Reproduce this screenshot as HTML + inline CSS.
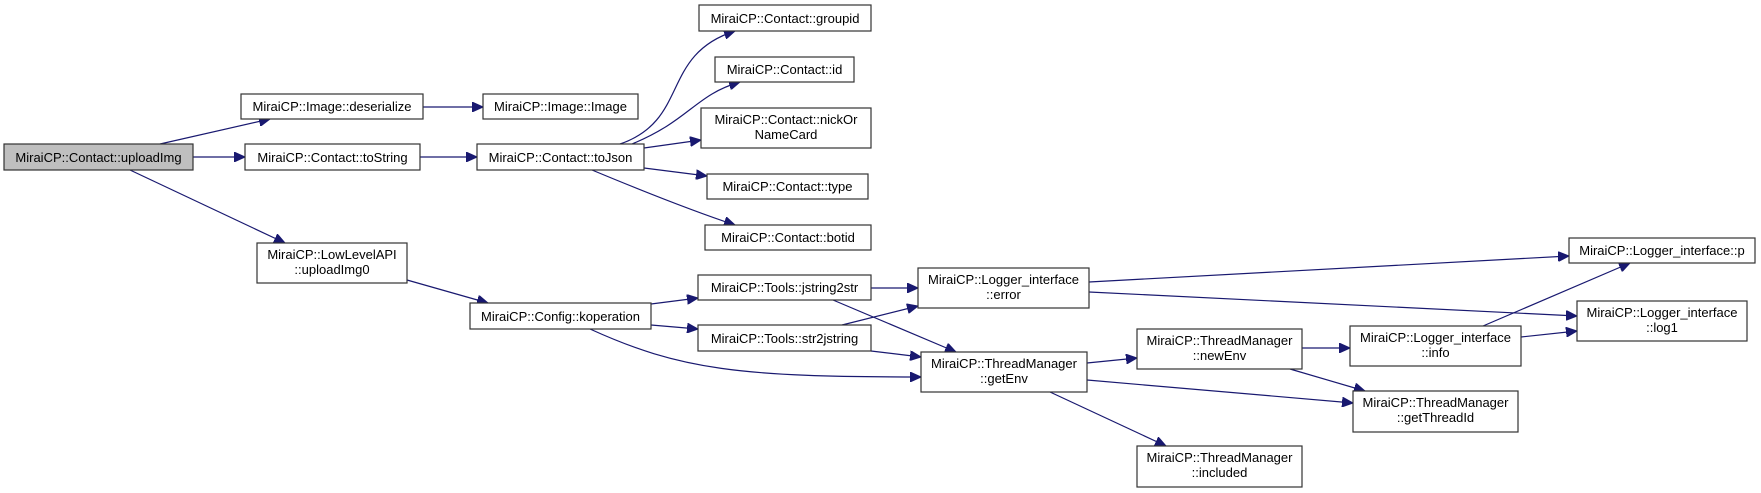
<!DOCTYPE html>
<html><head><meta charset="utf-8"><style>
html,body{margin:0;padding:0;background:#fff;}
svg{display:block;}
text{font-family:"Liberation Sans",Arial,sans-serif;font-size:13px;fill:#000;}
.b{fill:#fff;stroke:#333;stroke-width:1.2;}
.e{fill:none;stroke:#191970;stroke-width:1.2;marker-end:url(#a);}
</style></head><body>
<svg width="1761" height="493" viewBox="0 0 1761 493" xmlns="http://www.w3.org/2000/svg">
<defs><marker id="a" markerUnits="userSpaceOnUse" markerWidth="12" markerHeight="10" refX="11" refY="5" orient="auto"><path d="M0,0 L11,5 L0,10 z" fill="#191970" stroke="#191970"/></marker></defs>
<g>
<path class="e" d="M160,144 L270,119"/>
<path class="e" d="M193,157 L245,157"/>
<path class="e" d="M130,170 L285,243"/>
<path class="e" d="M423,107 L483,107"/>
<path class="e" d="M420,157 L477,157"/>
<path class="e" d="M620,144 C690,120 660,55 735,31"/>
<path class="e" d="M632,144 C690,120 695,95 740,82"/>
<path class="e" d="M644,148 L701,140"/>
<path class="e" d="M644,168 L707,176"/>
<path class="e" d="M592,170 C640,190 690,210 735,225"/>
<path class="e" d="M407,280 L488,303"/>
<path class="e" d="M651,304 L698,298"/>
<path class="e" d="M651,325 L698,329"/>
<path class="e" d="M590,329 C680,370 740,377 921,377"/>
<path class="e" d="M871,288 L918,288"/>
<path class="e" d="M833,300 L956,352"/>
<path class="e" d="M842,325 L918,306"/>
<path class="e" d="M871,351 L921,357"/>
<path class="e" d="M1089,282 L1569,256"/>
<path class="e" d="M1089,292 L1577,316"/>
<path class="e" d="M1087,363 L1137,358"/>
<path class="e" d="M1087,380 L1353,403"/>
<path class="e" d="M1050,392 L1166,446"/>
<path class="e" d="M1302,348 L1350,348"/>
<path class="e" d="M1290,369 L1365,391"/>
<path class="e" d="M1483,326 L1630,263"/>
<path class="e" d="M1521,337 L1577,331"/>
</g>
<rect x="4" y="144" width="189" height="26" fill="#bfbfbf" stroke="#333" stroke-width="1.2"/>
<text x="98.5" y="162" text-anchor="middle">MiraiCP::Contact::uploadImg</text>
<rect class="b" x="241" y="94" width="182" height="25"/><text x="332" y="111" text-anchor="middle">MiraiCP::Image::deserialize</text>
<rect class="b" x="483" y="94" width="155" height="25"/><text x="560.5" y="111" text-anchor="middle">MiraiCP::Image::Image</text>
<rect class="b" x="245" y="144" width="175" height="26"/><text x="332.5" y="162" text-anchor="middle">MiraiCP::Contact::toString</text>
<rect class="b" x="477" y="144" width="167" height="26"/><text x="560.5" y="162" text-anchor="middle">MiraiCP::Contact::toJson</text>
<rect class="b" x="257" y="243" width="150" height="40"/><text x="332" y="259" text-anchor="middle">MiraiCP::LowLevelAPI</text><text x="332" y="274" text-anchor="middle">::uploadImg0</text>
<rect class="b" x="699" y="5" width="172" height="26"/><text x="785" y="23" text-anchor="middle">MiraiCP::Contact::groupid</text>
<rect class="b" x="715" y="57" width="139" height="25"/><text x="784.5" y="74" text-anchor="middle">MiraiCP::Contact::id</text>
<rect class="b" x="701" y="108" width="170" height="40"/><text x="786" y="124" text-anchor="middle">MiraiCP::Contact::nickOr</text><text x="786" y="139" text-anchor="middle">NameCard</text>
<rect class="b" x="707" y="174" width="161" height="25"/><text x="787.5" y="191" text-anchor="middle">MiraiCP::Contact::type</text>
<rect class="b" x="705" y="225" width="166" height="25"/><text x="788" y="242" text-anchor="middle">MiraiCP::Contact::botid</text>
<rect class="b" x="470" y="303" width="181" height="26"/><text x="560.5" y="321" text-anchor="middle">MiraiCP::Config::koperation</text>
<rect class="b" x="698" y="275" width="173" height="25"/><text x="784.5" y="292" text-anchor="middle">MiraiCP::Tools::jstring2str</text>
<rect class="b" x="698" y="325" width="173" height="26"/><text x="784.5" y="343" text-anchor="middle">MiraiCP::Tools::str2jstring</text>
<rect class="b" x="918" y="268" width="171" height="40"/><text x="1003.5" y="284" text-anchor="middle">MiraiCP::Logger_interface</text><text x="1003.5" y="299" text-anchor="middle">::error</text>
<rect class="b" x="921" y="352" width="166" height="40"/><text x="1004" y="368" text-anchor="middle">MiraiCP::ThreadManager</text><text x="1004" y="383" text-anchor="middle">::getEnv</text>
<rect class="b" x="1137" y="329" width="165" height="40"/><text x="1219.5" y="345" text-anchor="middle">MiraiCP::ThreadManager</text><text x="1219.5" y="360" text-anchor="middle">::newEnv</text>
<rect class="b" x="1350" y="326" width="171" height="40"/><text x="1435.5" y="342" text-anchor="middle">MiraiCP::Logger_interface</text><text x="1435.5" y="357" text-anchor="middle">::info</text>
<rect class="b" x="1353" y="391" width="165" height="41"/><text x="1435.5" y="407" text-anchor="middle">MiraiCP::ThreadManager</text><text x="1435.5" y="422" text-anchor="middle">::getThreadId</text>
<rect class="b" x="1137" y="446" width="165" height="41"/><text x="1219.5" y="462" text-anchor="middle">MiraiCP::ThreadManager</text><text x="1219.5" y="477" text-anchor="middle">::included</text>
<rect class="b" x="1569" y="238" width="186" height="25"/><text x="1662" y="255" text-anchor="middle">MiraiCP::Logger_interface::p</text>
<rect class="b" x="1577" y="301" width="170" height="40"/><text x="1662" y="317" text-anchor="middle">MiraiCP::Logger_interface</text><text x="1662" y="332" text-anchor="middle">::log1</text>
</svg>
</body></html>
